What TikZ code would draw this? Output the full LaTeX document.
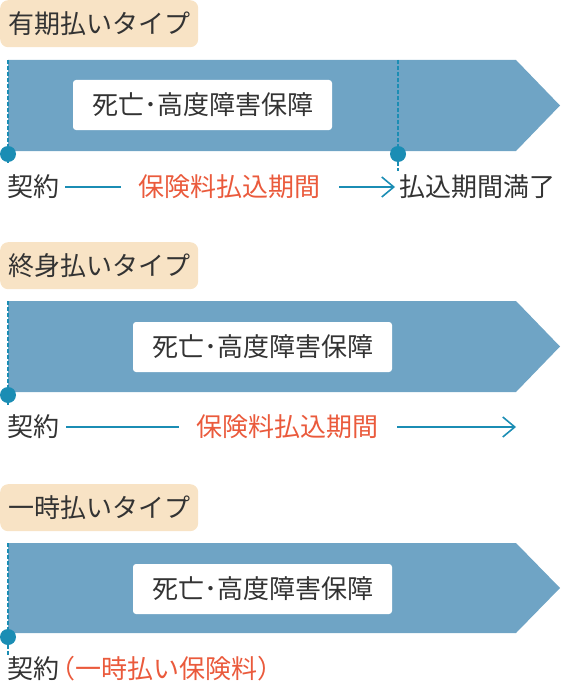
\documentclass[tikz,border=0pt]{standalone}
\usepackage{fontspec}
\usepackage{xcolor}
\usetikzlibrary{positioning,arrows.meta,calc}
\newfontfamily\jpfont{Noto Sans CJK JP}
\definecolor{BandBlue}{HTML}{6FA4C5}
\definecolor{TagPeach}{HTML}{F8E3C5}
\definecolor{LineTeal}{HTML}{1B8DB4}
\definecolor{AccentRed}{HTML}{EA5A3C}
\definecolor{TextDark}{HTML}{333333}

\begin{document}
\begin{tikzpicture}[x=1pt,y=-1pt,
          every node/.style={font=\jpfont\fontsize{26}{31}\selectfont, text=TextDark, inner sep=0pt},
          tag/.style={fill=TagPeach, rounded corners=8pt, anchor=north west,
            minimum width=198pt, minimum height=47pt},
          cover/.style={fill=white, rounded corners=3pt, minimum width=259pt,
            minimum height=50pt, font=\jpfont\fontsize{26}{30}\selectfont},
          dot/.style={circle, fill=LineTeal, minimum size=16pt},
          dashline/.style={LineTeal, line width=2pt, dash pattern=on 4pt off 2pt},
          conn/.style={LineTeal, line width=1.6pt},
          ar/.style={conn, -{Straight Barb[length=12pt,width=20pt,line width=1.6pt]}}]
        \useasboundingbox (0,0) rectangle (560,682);

        \node[tag] (t1) at (0,0) {有期払いタイプ};
        \fill[BandBlue] (8,60) -- (516,60) -- (560,105.5) -- (516,151) -- (8,151) -- cycle;
        \coordinate (s1a) at (8,60); \coordinate (e1a) at (8,163);
        \coordinate (s1b) at (398,60); \coordinate (e1b) at (398,171);
        \draw[dashline] (s1a) -- (e1a); \draw[dashline] (s1b) -- (e1b);
        \node[dot] (d1a) at (8,154) {};
        \node[dot] (d1b) at (398,154) {};
        \node[cover] (c1) at (202.5,105) {死亡･高度障害保障};
        \node[anchor=west] (k1) at (7,187) {契約};
        \node[anchor=west, text=AccentRed] (p1) at (138,187) {保険料払込期間};
        \node[anchor=west] (m1) at (399,187) {払込期間満了};
        \draw[conn, shorten <=6pt, shorten >=17pt] (k1) -- (p1);
        \draw[ar, shorten <=19pt, shorten >=4pt] (p1) -- (m1);

        \node[tag] (t2) at (0,242) {終身払いタイプ};
        \fill[BandBlue] (8,301) -- (516,301) -- (560,346.5) -- (516,392) -- (8,392) -- cycle;
        \coordinate (s2) at (8,301); \coordinate (e2) at (8,405);
        \draw[dashline] (s2) -- (e2);
        \node[dot] (d2) at (8,395) {};
        \node[cover] (c2) at (262.5,347) {死亡･高度障害保障};
        \node[anchor=west] (k2) at (7,427) {契約};
        \node[anchor=west, text=AccentRed] (p2) at (196,427) {保険料払込期間};
        \coordinate (f2) at (516,427);
        \draw[conn, shorten <=7pt, shorten >=17pt] (k2) -- (p2);
        \draw[ar, shorten <=19pt] (p2) -- (f2);

        \node[tag] (t3) at (0,484) {一時払いタイプ};
        \fill[BandBlue] (8,543) -- (516,543) -- (560,588) -- (516,633) -- (8,633) -- cycle;
        \coordinate (s3) at (8,543); \coordinate (e3) at (8,655);
        \draw[dashline] (s3) -- (e3);
        \node[dot] (d3) at (8,637) {};
        \node[cover] (c3) at (262.5,589) {死亡･高度障害保障};
        \node[anchor=west] (k3) at (7,669) {契約};
        \node[right=-10pt of k3, text=AccentRed] (p3) {（一時払い保険料）};
      \end{tikzpicture}
\end{document}
